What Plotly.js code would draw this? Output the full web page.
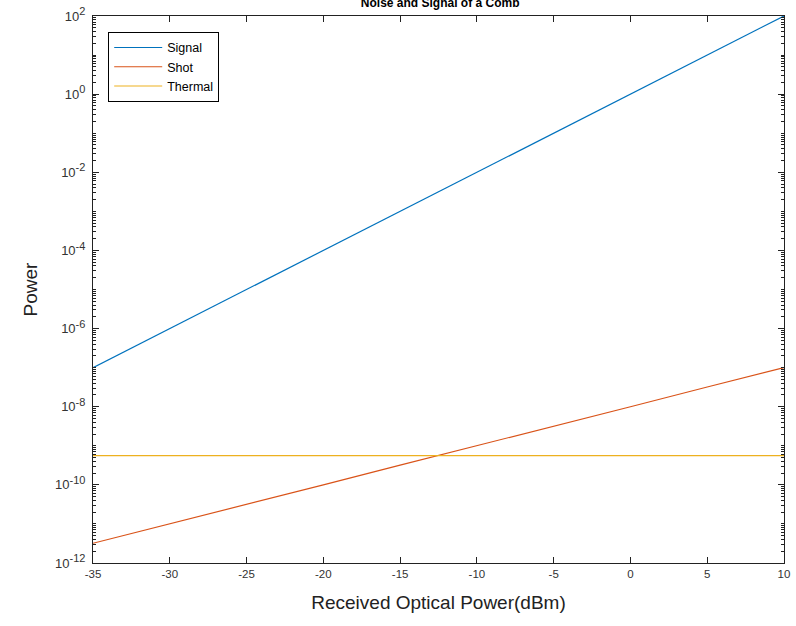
<!DOCTYPE html>
<html>
<head>
<meta charset="utf-8">
<script src="https://cdn.plot.ly/plotly-3.0.1.min.js"></script>
<style>html,body{margin:0;padding:0;background:#fff;}#chart{width:796px;height:626px;}</style>
</head>
<body>
<div id="chart"></div>
<script>
const receivedPower = [-35, -30, -25, -20, -15, -10, -5, 0, 5, 10];
const signalPower = [1e-7, 1e-6, 1e-5, 1e-4, 1e-3, 1e-2, 1e-1, 1, 10, 100];
const shotNoise = [3.2e-12, 1e-11, 3.2e-11, 1e-10, 3.2e-10, 1e-9, 3.2e-9, 1e-8, 3.2e-8, 1e-7];
const thermalNoise = [5.6e-10, 5.6e-10, 5.6e-10, 5.6e-10, 5.6e-10, 5.6e-10, 5.6e-10, 5.6e-10, 5.6e-10, 5.6e-10];
const seriesNames = ["Signal", "Shot", "Thermal"];
const xTicks = [-35, -30, -25, -20, -15, -10, -5, 0, 5, 10];
const xTickText = ["-35", "-30", "-25", "-20", "-15", "-10", "-5", "0", "5", "10"];
const yTicks = [1e-12, 1e-10, 1e-8, 1e-6, 1e-4, 1e-2, 1, 1e2];
const yExponents = ["-12", "-10", "-8", "-6", "-4", "-2", "0", "2"];

const font = "Liberation Sans, Arial, Helvetica, sans-serif";
const colors = ["#0072BD", "#D95319", "#EDB120"];
const ys = [signalPower, shotNoise, thermalNoise];
const yTickText = yExponents.map(e => "10<sup><span style=\"font-size:11px\">" + e + "</span></sup>");

const traces = ys.map((y, i) => ({
  x: receivedPower, y: y, name: seriesNames[i], type: "scatter", mode: "lines",
  line: {color: colors[i], width: 1.2}
}));

const layout = {
  width: 796, height: 626,
  margin: {l: 93, r: 12, t: 16, b: 63},
  paper_bgcolor: "#fff", plot_bgcolor: "#fff",
  showlegend: true,
  title: {text: "<b>Noise and Signal of a Comb</b>", font: {family: font, size: 12, color: "#000"},
          x: 0.553, xanchor: "center", yref: "container", y: 0.996, yanchor: "middle"},
  legend: {x: 0.022, y: 0.971, xanchor: "left", yanchor: "top", bgcolor: "#fff",
           bordercolor: "#000", borderwidth: 1, font: {family: font, size: 12.5, color: "#000"},
           tracegroupgap: 0, itemwidth: 48},
  xaxis: {
    range: [-35, 10], tickvals: xTicks, ticktext: xTickText, ticks: "inside", ticklen: 6, tickcolor: "#222",
    showline: true, linecolor: "#222", linewidth: 1, mirror: "ticks", showgrid: false, zeroline: false,
    tickfont: {family: font, size: 11.5, color: "#333"},
    title: {text: "Received Optical Power(dBm)", font: {family: font, size: 19, color: "#222"}, standoff: 16}
  },
  yaxis: {
    type: "log", range: [-12, 2], tickvals: yTicks, ticktext: yTickText, ticks: "inside", ticklen: 6, tickcolor: "#222",
    showline: true, linecolor: "#222", linewidth: 1, mirror: "ticks", showgrid: false, zeroline: false,
    tickfont: {family: font, size: 13, color: "#333"}, ticklabelstandoff: 4,
    minor: {ticks: "inside", ticklen: 3, dtick: "D1", tickcolor: "#222", showgrid: false},
    title: {text: "Power", font: {family: font, size: 19, color: "#222"}, standoff: 12}
  }
};

Plotly.newPlot("chart", traces, layout, {displayModeBar: false, staticPlot: true});
</script>
</body>
</html>
